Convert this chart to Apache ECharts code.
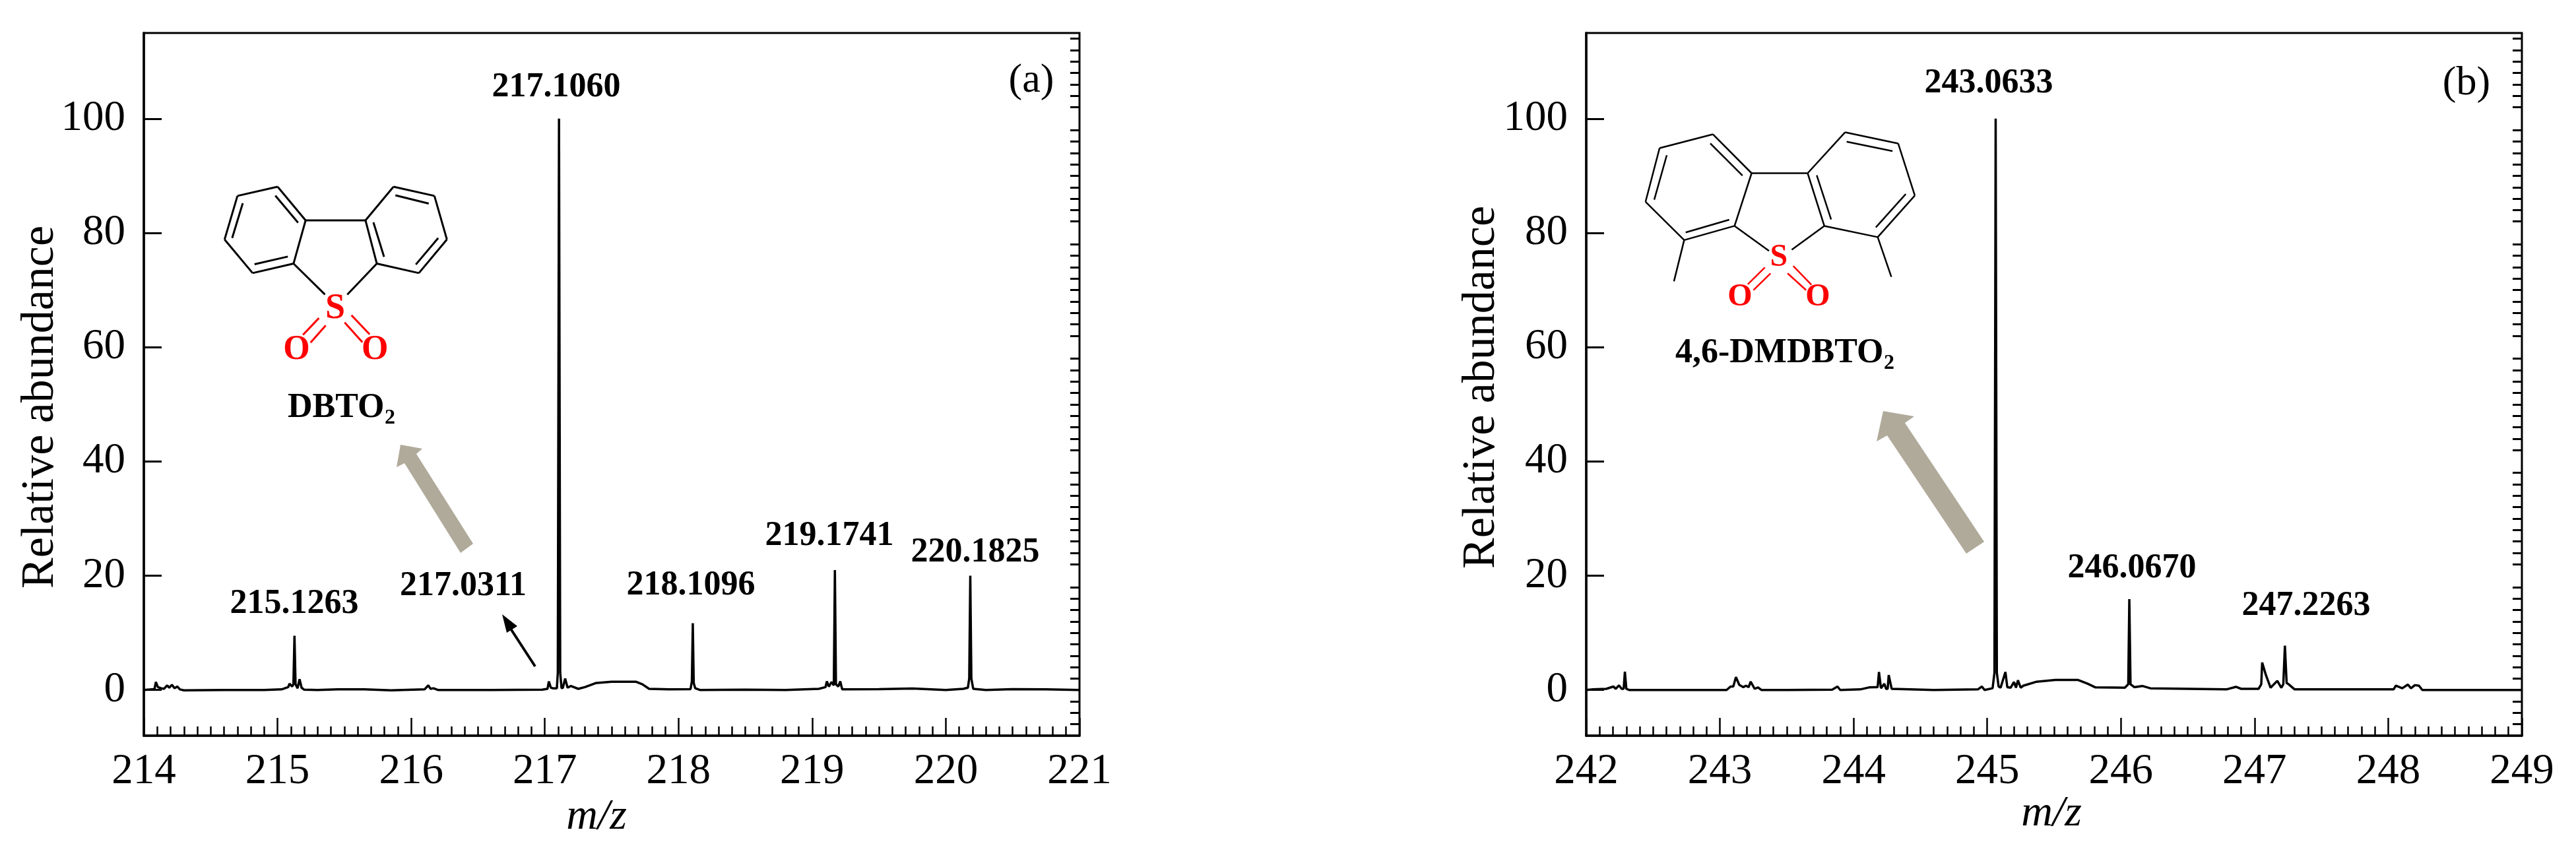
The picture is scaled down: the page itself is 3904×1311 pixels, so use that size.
<!DOCTYPE html>
<html lang="en">
<head>
<meta charset="utf-8">
<style>html,body{margin:0;padding:0;background:#fff}#chart{width:3904px;height:1311px}</style>
</head>
<body>
<div id="chart"></div>
<script src="https://cdn.jsdelivr.net/npm/echarts@6/dist/echarts.min.js"></script>
<script>
// spectrum (a)
var mzA = [214, 214.06, 214.08, 214.09, 214.105, 214.13, 214.15, 214.175, 214.19, 214.21, 214.23, 214.25, 214.27, 214.3, 214.6, 214.9,
  215.03, 215.08, 215.09, 215.11, 215.119, 215.127, 215.135, 215.15, 215.165, 215.18, 215.2, 215.3, 215.45, 215.65, 215.85,
  216.1, 216.128, 216.145, 216.166, 216.2, 216.6, 216.98,
  217.02, 217.03, 217.045, 217.06, 217.09, 217.097, 217.106, 217.115, 217.125, 217.135, 217.152, 217.17, 217.194, 217.25, 217.3, 217.38, 217.5, 217.68, 217.73, 217.78, 217.93,
  218.09, 218.1, 218.107, 218.114, 218.125, 218.16, 218.5, 218.8,
  219.05, 219.1, 219.11, 219.125, 219.145, 219.162, 219.17, 219.178, 219.195, 219.21, 219.225, 219.5, 219.75,
  220, 220.13, 220.165, 220.175, 220.183, 220.191, 220.205, 220.3, 220.5, 220.75, 221];
var abundanceA = [0, 0.1, 0.2, 1.4, 0.5, 0.3, 0.2, 0.8, 0.4, 0.9, 0.3, 0.6, 0.1, -0.05, 0, 0,
  0.1, 0.5, 1.1, 0.6, 1, 9.5, 1, 0.3, 1.9, 0.4, 0.05, 0, 0.1, 0.1, -0.05,
  0.1, 0.8, 0.2, 0.3, 0, 0, 0.05,
  0.2, 1.5, 0.4, 0.3, 0.3, 3, 100, 3, 0.3, 0.4, 2, 0.4, 0.7, 0.2, 0.5, 1.2, 1.45, 1.45, 1, 0.2, 0.1,
  0.15, 1.5, 11.7, 1.2, 0.3, 0, 0.05, 0,
  0.2, 0.5, 1.5, 0.6, 1.4, 0.8, 21, 1, 0.6, 1.5, 0.1, 0.15, 0.25,
  0, 0.2, 0.4, 2, 20, 2, 0.2, 0, 0.15, 0.1, 0];

// spectrum (b)
var mzB = [242, 242.05, 242.15, 242.204, 242.22, 242.245, 242.265, 242.28, 242.289, 242.3, 242.32, 242.6,
  243.05, 243.08, 243.1, 243.12, 243.145, 243.175, 243.195, 243.215, 243.23, 243.26, 243.285, 243.31, 243.5, 243.84, 243.88, 243.9,
  244.05, 244.116, 244.16, 244.18, 244.19, 244.205, 244.23, 244.243, 244.255, 244.263, 244.285, 244.6,
  244.93, 244.96, 244.98, 245.04, 245.054, 245.063, 245.072, 245.085, 245.1, 245.136, 245.15, 245.175, 245.2, 245.215, 245.23, 245.25, 245.27, 245.37, 245.51, 245.68, 245.75, 245.81,
  246.03, 246.055, 246.063, 246.072, 246.1, 246.16, 246.22, 246.79, 246.86, 246.9,
  247.03, 247.05, 247.057, 247.085, 247.12, 247.17, 247.2, 247.215, 247.227, 247.24, 247.255, 247.3, 247.6,
  248.04, 248.057, 248.105, 248.147, 248.17, 248.2, 248.23, 248.255, 248.6, 249];
var abundanceB = [0, 0.1, 0.2, 0.6, 0.2, 0.8, 0.2, 0.2, 3.2, 0.2, 0, 0,
  0, 0.6, 0.6, 2.25, 0.9, 0.5, 0.75, 0.5, 1.45, 0.2, 0.45, 0, 0, 0.05, 0.6, 0,
  0.1, 0.45, 0.5, 0.5, 3.15, 0.3, 1.1, 0.2, 0.2, 2.6, 0.2, 0,
  0.1, 0.6, 0, 0.3, 3, 100, 3, 0.6, 0.4, 3.15, 0.5, 0.4, 1.4, 0.4, 1.7, 0.4, 0.75, 1.45, 1.75, 1.75, 1.1, 0.45,
  0.4, 1, 15.9, 1, 0.5, 0.7, 0.3, 0.1, 0.55, 0.2,
  0.2, 1, 4.8, 2.6, 0.4, 1.6, 0.4, 1, 7.75, 1.2, 1, 0.1, 0.1,
  0.1, 0.75, 0.3, 0.95, 0.3, 0.85, 0.75, 0, 0, 0];

var yMajorTicks = [0, 20, 40, 60, 80, 100];
var yMinorTicks = [-6, -4, -2, 2, 4, 6, 8, 10, 12, 14, 16, 18, 22, 24, 26, 28, 30, 32, 34, 36, 38, 42, 44, 46, 48, 50, 52, 54, 56, 58,
  62, 64, 66, 68, 70, 72, 74, 76, 78, 82, 84, 86, 88, 90, 92, 94, 96, 98, 102, 104, 106, 108, 110, 112, 114];

var serif = '"Liberation Serif", "Times New Roman", serif';

function mkGrid(left) {
  return { left: left, top: 50, width: 1418, height: 1065, show: true, borderColor: '#000', borderWidth: 3, backgroundColor: 'transparent' };
}
function mkX(idx, min, max) {
  return {
    type: 'value', gridIndex: idx, min: min, max: max, interval: 1,
    splitLine: { show: false },
    axisLine: { show: true, onZero: false, lineStyle: { color: '#000', width: 3.5 } },
    axisTick: { show: true, inside: true, length: 27, lineStyle: { color: '#000', width: 2.5 } },
    minorTick: { show: true, splitNumber: 10, length: 14, lineStyle: { color: '#000', width: 2.5 } },
    axisLabel: { show: true, margin: 22, color: '#000', fontFamily: serif, fontSize: 65 }
  };
}
// two y axes per panel: one carries the long labelled ticks, the other the short ones
function mkYMajor(idx) {
  return {
    type: 'value', gridIndex: idx, min: -8, max: 115,
    splitLine: { show: false },
    axisLine: { show: true, onZero: false, lineStyle: { color: '#000', width: 3.5 } },
    axisTick: { show: true, inside: true, length: 27, customValues: yMajorTicks, lineStyle: { color: '#000', width: 3 } },
    axisLabel: { show: true, margin: 28, color: '#000', fontFamily: serif, fontSize: 65, customValues: yMajorTicks }
  };
}
function mkYMinor(idx) {
  return {
    type: 'value', gridIndex: idx, min: -8, max: 115,
    splitLine: { show: false },
    axisLine: { show: false, onZero: false },
    axisTick: { show: true, inside: true, length: 14, customValues: yMinorTicks, lineStyle: { color: '#000', width: 3 } },
    axisLabel: { show: false }
  };
}
function zip(xs, ys) {
  return xs.map(function (x, i) { return [x, ys[i]]; });
}
function mkSeries(idx, xs, ys) {
  return {
    type: 'line', xAxisIndex: idx, yAxisIndex: idx * 2, data: zip(xs, ys),
    showSymbol: false, symbol: 'none', animation: false, sampling: null, z: 5,
    lineStyle: { color: '#000', width: 3.5 }
  };
}

// text placed by its baseline
function txt(x, base, s, size, o) {
  o = o || {};
  return {
    type: 'text', x: x, y: base - 0.3375 * size, z: 20, rotation: o.rotation || 0,
    style: {
      text: s, fill: o.fill || '#000', fontFamily: serif, fontSize: size,
      fontWeight: o.bold ? 'bold' : 'normal', fontStyle: o.italic ? 'italic' : 'normal',
      align: o.align || 'center', verticalAlign: 'middle'
    }
  };
}
function seg(p, color, w) {
  return { type: 'line', z: 15, shape: { x1: p[0], y1: p[1], x2: p[2], y2: p[3] }, style: { stroke: color, lineWidth: w } };
}
function poly(pts, color) {
  return { type: 'polygon', z: 10, shape: { points: pts }, style: { fill: color } };
}
var sx = 900 / 1568, sy = 700 / 1568;
function bonds(ox, list, color, w) {
  return list.map(function (b) {
    return seg([ox + b[0] * sx, b[1] * sy, ox + b[2] * sx, b[3] * sy], color, w);
  });
}

var blackA = [[627,665,733,634],[733,634,807,748],[807,748,775,895],[775,895,667,927],[667,927,593,813],[593,813,627,665],
  [807,748,965,748],[965,748,1039,634],[1039,634,1147,665],[1147,665,1180,813],[1180,813,1106,927],[1106,927,995,895],[995,895,965,748],
  [641,690,613,808],[727,664,787,756],[672,897,760,871],[1044,663,1132,691],[1157,808,1098,898],[986,755,1014,872],
  [775,895,858,1000],[995,895,917,1000]];
var redA = [[800,1137,842,1080],[820,1163,860,1105],[910,1095,957,1162],[928,1070,976,1135]];
var blackB = [[549,503,690,456],[690,456,792,588],[792,588,747,767],[747,767,614,815],[614,815,512,685],[512,685,549,503],
  [792,588,940,588],[940,588,1039,449],[1039,449,1179,487],[1179,487,1223,664],[1223,664,1125,805],[1125,805,984,767],[984,767,940,588],
  [568,527,535,678],[683,487,768,596],[618,789,733,746],[1043,481,1164,513],[1199,659,1120,772],[964,595,1002,745],
  [747,767,838,852],[984,767,898,848],[614,815,587,955],[1125,805,1161,940]];
var redB = [[782,965,827,908],[797,985,842,928],[887,928,936,985],[902,903,950,967]];

var arrowGrey = '#b0aa9a';
var graphics = [].concat(
  bonds(0, blackA, '#000', 3), bonds(0, redA, '#f00', 3),
  bonds(2200, blackB, '#000', 2.5), bonds(2200, redB, '#f00', 2.5),
  [
    txt(885 * sx, 1090 * sy, 'S', 54, { fill: '#f00', bold: true }),
    txt(783 * sx, 1228 * sy, 'O', 52, { fill: '#f00', bold: true }),
    txt(990 * sx, 1228 * sy, 'O', 52, { fill: '#f00', bold: true }),
    txt(2200 + 864 * sx, 912 * sy, 'S', 48, { fill: '#f00', bold: true }),
    txt(2200 + 761 * sx, 1045 * sy, 'O', 48, { fill: '#f00', bold: true }),
    txt(2200 + 967 * sx, 1045 * sy, 'O', 48, { fill: '#f00', bold: true }),

    poly([[607,674],[640,680],[631,688],[717,824],[698,838],[613,702],[601,708]], arrowGrey),
    poly([[2854,623],[2901,631],[2887,641],[3007,821],[2980,839],[2860,660],[2844,669]], arrowGrey),
    seg([811, 1010, 772, 950], '#000', 4),
    poly([[761,931],[784,949],[768,959]], '#000'),

    txt(843, 150, '217.1060', 52, { bold: true }),
    txt(446, 933, '215.1263', 52, { bold: true }),
    txt(702, 906, '217.0311', 52, { bold: true }),
    txt(1047, 905, '218.1096', 52, { bold: true }),
    txt(1257, 830, '219.1741', 52, { bold: true }),
    txt(1478, 855, '220.1825', 52, { bold: true }),
    txt(3014, 144, '243.0633', 52, { bold: true }),
    txt(3231, 879, '246.0670', 52, { bold: true }),
    txt(3495, 936, '247.2263', 52, { bold: true }),

    txt(436, 636, 'DBTO', 52, { bold: true, align: 'left' }),
    txt(583, 645, '2', 32, { bold: true, align: 'left' }),
    txt(2539, 553, '4,6-DMDBTO', 52, { bold: true, align: 'left' }),
    txt(2855, 562, '2', 32, { bold: true, align: 'left' }),

    txt(1563, 144, '(a)', 62),
    txt(3738, 148, '(b)', 62),

    txt(904, 1261, 'm/z', 66, { italic: true }),
    txt(3109, 1256, 'm/z', 66, { italic: true }),

    { type: 'text', x: 62, y: 617, rotation: Math.PI / 2, z: 20,
      style: { text: 'Relative abundance', fill: '#000', fontFamily: serif, fontSize: 70, align: 'center', verticalAlign: 'middle' } },
    { type: 'text', x: 2246, y: 587, rotation: Math.PI / 2, z: 20,
      style: { text: 'Relative abundance', fill: '#000', fontFamily: serif, fontSize: 70, align: 'center', verticalAlign: 'middle' } }
  ]
);

var option = {
  backgroundColor: '#fff',
  animation: false,
  grid: [mkGrid(218), mkGrid(2404)],
  xAxis: [mkX(0, 214, 221), mkX(1, 242, 249)],
  yAxis: [mkYMajor(0), mkYMinor(0), mkYMajor(1), mkYMinor(1)],
  series: [mkSeries(0, mzA, abundanceA), mkSeries(1, mzB, abundanceB)],
  graphic: graphics
};

var myChart = echarts.init(document.getElementById('chart'));
myChart.setOption(option);
</script>
</body>
</html>
